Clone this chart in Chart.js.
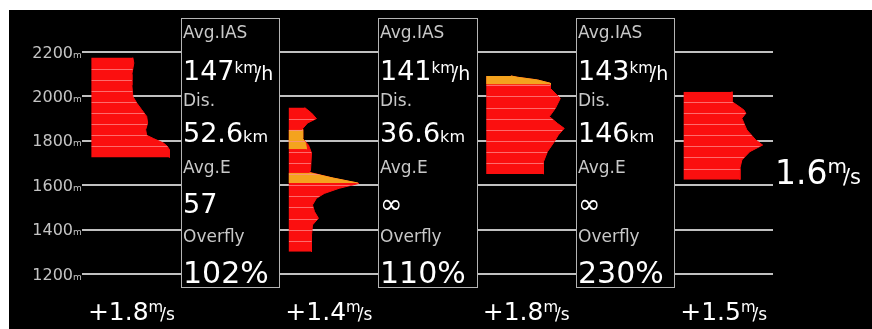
<!DOCTYPE html>
<html><head><meta charset="utf-8">
<script src="https://cdn.jsdelivr.net/npm/chart.js@4.4.1/dist/chart.umd.min.js"></script>
<style>
html,body{margin:0;padding:0;background:#fff;width:872px;height:329px;overflow:hidden}
#wrap{position:absolute;left:9px;top:10px;width:863px;height:319px;background:#000}
canvas{display:block}
</style></head><body>
<div id="wrap"><canvas id="c" width="863" height="319"></canvas></div>
<script>
// ---------- data ----------
const altTicks = [1200, 1400, 1600, 1800, 2000, 2200];
const binSize = 50;

// thermal profiles: altitude (m) and width (1/100 of a column)
const p1Alt = [2175, 2150, 2100, 2050, 2000, 1970, 1940, 1910, 1880, 1850, 1825, 1810, 1790, 1775, 1760, 1725];
const p1W   = [42, 43, 41, 41, 42, 46, 51, 56, 57, 55, 56, 63, 73, 77, 79, 79];
const p2Alt = [1950, 1925, 1900, 1880, 1855, 1810, 1780, 1745, 1668, 1658, 1632, 1608, 1586, 1563, 1541, 1511, 1481, 1451, 1421, 1376, 1300];
const p2W   = [16, 23, 28, 19, 14, 14, 20, 23, 22, 21, 45, 71, 51, 36, 28, 24, 26, 30, 24, 23, 23];
const p3Alt = [2092, 2086, 2074, 2059, 2036, 1991, 1946, 1909, 1879, 1856, 1826, 1796, 1751, 1706, 1650];
const p3W   = [25, 32, 52, 65, 65, 75, 70, 64, 72, 79, 73, 69, 62, 58, 58];
const p4Alt = [2021, 1976, 1961, 1939, 1924, 1901, 1849, 1804, 1781, 1751, 1714, 1676, 1625];
const p4W   = [49, 49, 54, 61, 63, 59, 64, 73, 80, 67, 59, 57, 57];
const binTops = [2175, 1950, 2100, 2025];

// orange parts
const o2aAlt = [1850, 1810, 1790, 1762];
const o2aW   = [14, 14, 17, 18];
const o2bAlt = [1656, 1632, 1610];
const o2bW   = [21, 45, 70];
const o3Alt  = [2092, 2086, 2074, 2059, 2054];
const o3W    = [25, 32, 52, 65, 65];

// info boxes
const avgIAS  = ['147', '141', '143'];
const distKm  = ['52.6', '36.6', '146'];
const avgE    = ['57', '∞', '∞'];
const overfly = ['102%', '110%', '230%'];
// climb rates
const climbs = ['+1.8', '+1.4', '+1.8', '+1.5'];
const totalClimb = '1.6';

// ---------- layout ----------
const histSlots = [0, 2, 4, 6];
const boxSlots = [1, 3, 5];
const inset = 0.095;
const RED = '#fb0f0f', ORANGE = '#f4a31e';
const FONT = '"DejaVu Sans", Verdana, sans-serif';

function pts(alts, ws, base) { return alts.map((a, i) => ({ x: base + ws[i] / 100, y: a })); }

const profiles = [[p1Alt, p1W], [p2Alt, p2W], [p3Alt, p3W], [p4Alt, p4W]];
const datasets = [];
profiles.forEach((p, k) => {
  const base = histSlots[k] + inset;
  datasets.push({
    data: pts(p[0], p[1], base), base, binTop: binTops[k], stripes: true,
    borderColor: RED, backgroundColor: RED, borderWidth: 1, pointRadius: 0,
    fill: { value: base }, order: 2
  });
});
[[o2aAlt, o2aW, 1], [o2bAlt, o2bW, 1], [o3Alt, o3W, 2]].forEach(o => {
  const base = histSlots[o[2]] + inset;
  datasets.push({
    data: pts(o[0], o[1], base), base,
    borderColor: ORANGE, backgroundColor: ORANGE, borderWidth: 1, pointRadius: 0,
    fill: { value: base }, order: 1
  });
});

function drawParts(ctx, x, y, parts, align) {
  const widths = []; let total = 0;
  parts.forEach(p => { ctx.font = p.s + 'px ' + FONT; const w = ctx.measureText(p.t).width; widths.push(w); total += w + (p.dx || 0); });
  let cx = align === 'center' ? x - total / 2 : x;
  ctx.textAlign = 'left'; ctx.textBaseline = 'alphabetic';
  parts.forEach((p, i) => {
    cx += (p.dx || 0);
    ctx.font = p.s + 'px ' + FONT;
    ctx.fillStyle = p.c || '#ffffff';
    ctx.fillText(p.t, cx, y + (p.dy || 0));
    cx += widths[i];
  });
}

const bgPlugin = {
  id: 'bg',
  beforeDraw(c) { const ctx = c.ctx; ctx.save(); ctx.fillStyle = '#000'; ctx.fillRect(0, 0, c.width, c.height); ctx.restore(); }
};

const stripePlugin = {
  id: 'stripes',
  afterDatasetsDraw(c) {
    const ctx = c.ctx, xs = c.scales.x, ys = c.scales.y;
    c.data.datasets.forEach((ds, i) => {
      if (!ds.stripes) return;
      const el = c.getDatasetMeta(i).data;
      const bx = xs.getPixelForValue(ds.base);
      ctx.save();
      ctx.beginPath();
      ctx.moveTo(bx, el[0].y);
      el.forEach(p => ctx.lineTo(p.x, p.y));
      ctx.lineTo(bx, el[el.length - 1].y);
      ctx.closePath();
      ctx.clip();
      ctx.strokeStyle = 'rgba(255,140,140,0.75)';
      ctx.lineWidth = 1;
      const lo = ds.data[ds.data.length - 1].y;
      for (let a = ds.binTop - binSize; a > lo; a -= binSize) {
        const y = Math.round(ys.getPixelForValue(a)) + 0.5;
        ctx.beginPath(); ctx.moveTo(bx, y); ctx.lineTo(xs.getPixelForValue(ds.base + 1), y); ctx.stroke();
      }
      ctx.restore();
    });
  }
};

const textPlugin = {
  id: 'texts',
  afterDraw(c) {
    const ctx = c.ctx, xs = c.scales.x, ys = c.scales.y, ca = c.chartArea;
    ctx.save();
    // y labels
    altTicks.forEach(v => {
      const y = ys.getPixelForValue(v) + 5.5;
      ctx.font = '16px ' + FONT; ctx.fillStyle = '#c4c4c4'; ctx.textAlign = 'right'; ctx.textBaseline = 'alphabetic';
      ctx.fillText(String(v), ca.left - 9, y);
      ctx.font = '9px ' + FONT; ctx.textAlign = 'left';
      ctx.fillText('m', ca.left - 9, y);
    });
    // boxes
    boxSlots.forEach((s, k) => {
      const x0 = Math.round(xs.getPixelForValue(s)), x1 = Math.round(xs.getPixelForValue(s + 1));
      const top = Math.round(ca.top - 34), bot = Math.round(ca.bottom + 13);
      ctx.fillStyle = '#000';
      ctx.fillRect(x0, top, x1 - x0, bot - top);
      ctx.strokeStyle = '#b4b4b4'; ctx.lineWidth = 1;
      ctx.strokeRect(x0 + 0.5, top + 0.5, x1 - x0, bot - top);
      const tx = x0 + 2, G = '#c8c8c8';
      drawParts(ctx, tx, top + 20, [{ t: 'Avg.IAS', s: 17, c: G }]);
      drawParts(ctx, tx, top + 62, [{ t: avgIAS[k], s: 27 }, { t: 'km', s: 15, dy: -7 }, { t: '/h', s: 19, dx: -3 }]);
      drawParts(ctx, tx, top + 88, [{ t: 'Dis.', s: 17, c: G }]);
      drawParts(ctx, tx, top + 124, [{ t: distKm[k], s: 27 }, { t: 'km', s: 16 }]);
      drawParts(ctx, tx, top + 155, [{ t: 'Avg.E', s: 17, c: G }]);
      drawParts(ctx, tx, top + 195, [{ t: avgE[k], s: 27 }]);
      drawParts(ctx, tx, top + 224, [{ t: 'Overfly', s: 17, c: G }]);
      drawParts(ctx, tx, top + 265, [{ t: overfly[k], s: 30 }]);
    });
    // climb labels
    histSlots.forEach((s, k) => {
      const cx = xs.getPixelForValue(s + 0.5);
      drawParts(ctx, cx, ca.bottom + 46, [{ t: climbs[k], s: 25 }, { t: 'm', s: 15, dy: -8 }, { t: '/s', s: 17, dx: -3 }], 'center');
    });
    // overall climb
    drawParts(ctx, ca.right + 2, ys.getPixelForValue(1600) - 1,
      [{ t: totalClimb, s: 33 }, { t: 'm', s: 20, dy: -11 }, { t: '/s', s: 21, dx: -4 }]);
    ctx.restore();
  }
};

new Chart(document.getElementById('c'), {
  type: 'line',
  data: { datasets },
  options: {
    indexAxis: 'y',
    responsive: false,
    animation: false,
    devicePixelRatio: 1,
    layout: { padding: { left: 73, right: 99, top: 42, bottom: 55 } },
    plugins: { legend: { display: false }, tooltip: { enabled: false } },
    elements: { line: { tension: 0 } },
    scales: {
      x: { type: 'linear', min: 0, max: 7, display: false },
      y: {
        type: 'linear', min: 1200, max: 2200,
        ticks: { display: false, stepSize: 200 },
        grid: { color: '#c0c0c0', lineWidth: 2, drawTicks: false },
        border: { display: false }
      }
    }
  },
  plugins: [bgPlugin, stripePlugin, textPlugin]
});
</script>
</body></html>
